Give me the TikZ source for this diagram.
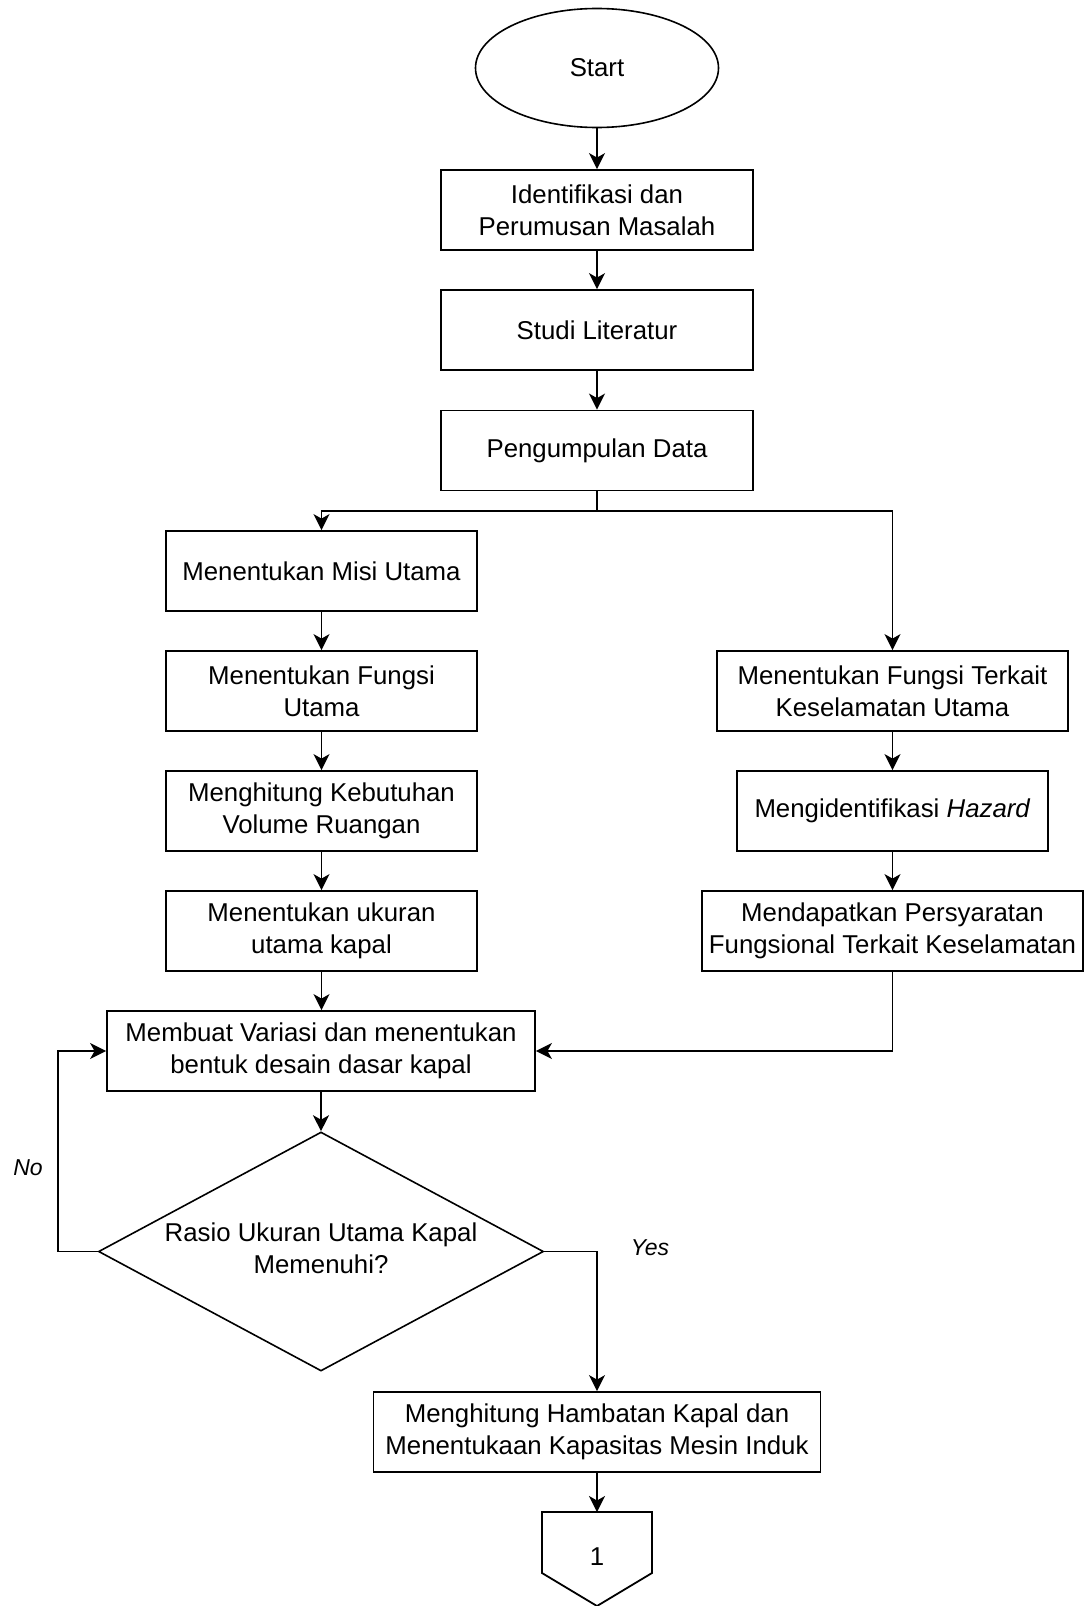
\documentclass[tikz,border=0pt]{standalone}
\usepackage{fontspec}
\setmainfont{Liberation Sans}
\usetikzlibrary{shapes.geometric,arrows.meta}
\begin{document}
\begin{tikzpicture}[x=1pt,y=-1pt,
  every node/.style={font=\fontsize{25.8pt}{32pt}\selectfont},
  box/.style={draw=black,line width=1.8pt,fill=white,minimum height=80pt,inner sep=0pt,align=center},
  startnode/.style={draw=black,line width=1.6pt,ellipse,minimum width=243pt,minimum height=119pt,inner sep=0pt},
  decision/.style={draw=black,line width=1.6pt,diamond,minimum width=445pt,minimum height=239pt,inner sep=0pt},
  txt/.style={inner sep=0pt,align=center},
  lbl/.style={inner sep=0pt,font=\fontsize{23pt}{28pt}\selectfont\itshape},
  line/.style={draw=black,line width=1.8pt},
  arr/.style={line,-{Stealth[length=16pt,width=16pt,inset=4.5pt]}}
]
\useasboundingbox (0,0) rectangle (1088,1606);

% main column
\node[startnode] (start) at (597,68) {Start};
\node[box,minimum width=312pt] (b1) at (597,210) {Identifikasi dan\\Perumusan Masalah};
\node[box,minimum width=312pt] (b2) at (597,330) {Studi Literatur};
\node[box,minimum width=312pt] (b3) at (597,450.5) {Pengumpulan Data};

% left column
\node[box,minimum width=311pt] (m1) at (321.5,571) {Menentukan Misi Utama};
\node[box,minimum width=311pt] (m2) at (321.5,691) {Menentukan Fungsi\\Utama};
\node[box,minimum width=311pt] (m3) at (321.5,811) {Menghitung Kebutuhan\\Volume Ruangan};
\node[box,minimum width=311pt] (m4) at (321.5,931) {Menentukan ukuran\\utama kapal};

% right column
\node[box,minimum width=351pt] (r1) at (892.5,691) {Menentukan Fungsi Terkait\\Keselamatan Utama};
\node[box,minimum width=311pt] (r2) at (892.5,811) {Mengidentifikasi \textit{Hazard}};
\node[box,minimum width=381pt] (r3) at (892.5,931) {Mendapatkan Persyaratan\\Fungsional Terkait Keselamatan};

% lower part
\node[box,minimum width=428pt] (mv) at (321,1051) {Membuat Variasi dan menentukan\\bentuk desain dasar kapal};
\node[decision] (d) at (321,1251.5) {};
\node[txt] (dtext) at (321,1248) {Rasio Ukuran Utama Kapal\\Memenuhi?};
\node[box,minimum width=447pt] (hb) at (597,1432) {Menghitung Hambatan Kapal dan\\Menentukaan Kapasitas Mesin Induk};

% off-page connector
\coordinate (optop) at (597,1512);
\draw[line,line join=miter] (542,1512) -- (652,1512) -- (652,1573) -- (597,1606) -- (542,1573) -- cycle;
\node[txt] (one) at (597,1557) {1};

% labels
\node[lbl] (no) at (28,1168) {No};
\node[lbl] (yes) at (650,1248) {Yes};

% coordinates
\coordinate (sp) at (597,511);
\coordinate (noc) at (58,1251.5);

% connectors
\draw[arr] (start) -- (b1);
\draw[arr] (b1) -- (b2);
\draw[arr] (b2) -- (b3);
\draw[line] (b3.south) -- (sp);
\draw[arr] (sp) -| (m1.north);
\draw[arr] (sp) -| (r1.north);
\draw[arr] (m1) -- (m2);
\draw[arr] (m2) -- (m3);
\draw[arr] (m3) -- (m4);
\draw[arr] (m4.south) -- (m4.south |- mv.north);
\draw[arr] (r1) -- (r2);
\draw[arr] (r2) -- (r3);
\draw[arr] (r3.south) |- (mv.east);
\draw[arr] (mv) -- (d.north);
\draw[arr] (d.west) -- (noc) |- (mv.west);
\draw[arr] (d.east) -| (hb.north);
\draw[arr] (hb.south) -- (optop);
\end{tikzpicture}
\end{document}
